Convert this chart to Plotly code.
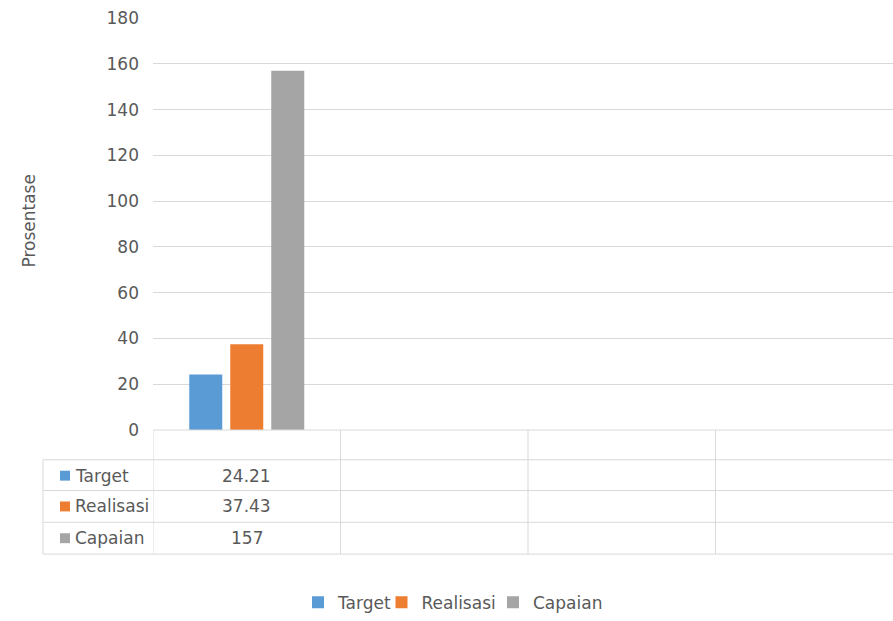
import plotly.graph_objects as go

# ---- data ----
categories = ["", "", "", ""]
series_names = ["Target", "Realisasi", "Capaian"]
target = [24.21, None, None, None]
realisasi = [37.43, None, None, None]
capaian = [157, None, None, None]
table_text = [["24.21", "", "", ""], ["37.43", "", "", ""], ["157", "", "", ""]]
y_ticks = [0, 20, 40, 60, 80, 100, 120, 140, 160, 180]
colors = ["#5B9BD5", "#ED7D31", "#A5A5A5"]

FONT = "DejaVu Sans"
TXT = "#595959"
GRID = "#D9D9D9"
FS = 17

# page geometry (pixels)
L, R_PX, T, B = 153, 893, 18, 433
W, H = R_PX - L, B - T

def px(x):
    return (x - L) / W

def py(y):
    return (B - y) / H

xs = list(range(len(categories)))
legend_ids = ["legend", "legend2", "legend3"]
legend_sym_x = [318, 401.5, 513]   # pixel centre of each legend swatch

fig = go.Figure()
for name, vals, c, lg in zip(series_names, [target, realisasi, capaian], colors, legend_ids):
    fig.add_trace(go.Bar(x=xs, y=vals, name=name, legend=lg,
                         marker=dict(color=c, line=dict(width=0))))

legend_common = dict(orientation="h", xanchor="left", y=py(607), yanchor="middle",
                     font=dict(size=FS, color=TXT, family=FONT), itemwidth=30,
                     bgcolor="rgba(0,0,0,0)", borderwidth=0)
layout_legends = {lg: dict(x=px(sx - 20), **legend_common) for lg, sx in zip(legend_ids, legend_sym_x)}

fig.update_layout(
    width=893, height=621,
    margin=dict(l=L, r=893 - R_PX, t=T, b=621 - B),
    paper_bgcolor="white", plot_bgcolor="white",
    barmode="group", bargap=0.344, bargroupgap=0.195,
    font=dict(family=FONT, color=TXT, size=FS),
    showlegend=True,
    **layout_legends,
)
fig.update_xaxes(range=[-0.5, -0.5 + W / 187.5], showticklabels=False, showgrid=False,
                 zeroline=False, showline=False, ticks="", fixedrange=True)
fig.update_yaxes(range=[0, 180], tickvals=y_ticks, showgrid=True, gridcolor=GRID, gridwidth=1,
                 zeroline=False, showline=False, ticks="", ticklabelstandoff=13,
                 tickfont=dict(size=FS, color=TXT, family=FONT), automargin=False)

# y-axis title
fig.add_annotation(text="Prosentase", textangle=-90, xref="paper", yref="paper",
                   x=px(17.5), y=py(222.5), showarrow=False, font=dict(size=FS, color=TXT))

# ---- data table ----
row_lines = [433, 463, 494, 526, 558]
line = dict(color=GRID, width=1)
fig.add_shape(type="line", xref="paper", yref="paper", x0=0, x1=1,
              y0=py(row_lines[0]), y1=py(row_lines[0]), line=line)
for yl in row_lines[1:]:
    fig.add_shape(type="line", xref="paper", yref="paper", x0=px(43), x1=1,
                  y0=py(yl), y1=py(yl), line=line)
fig.add_shape(type="line", xref="paper", yref="paper", x0=px(43), x1=px(43),
              y0=py(463), y1=py(558), line=line)
for i in range(len(categories)):
    fig.add_shape(type="line", xref="x", yref="paper", x0=i - 0.5, x1=i - 0.5,
                  y0=py(433), y1=py(558), line=line)

row_centers = [479, 510, 542]
for r, (name, c) in enumerate(zip(series_names, colors)):
    yc = row_centers[r]
    fig.add_shape(type="rect", xref="paper", yref="paper", x0=px(60), x1=px(70),
                  y0=py(yc - 5), y1=py(yc + 5), fillcolor=c, line=dict(width=0))
    fig.add_annotation(text=name, xref="paper", yref="paper", x=px(73), y=py(yc),
                       xanchor="left", yanchor="middle", showarrow=False,
                       font=dict(size=FS, color=TXT))
    for i, t in enumerate(table_text[r]):
        if t:
            fig.add_annotation(text=t, xref="x", yref="paper", x=xs[i], y=py(yc),
                               xanchor="center", yanchor="middle", showarrow=False,
                               font=dict(size=FS, color=TXT))

fig.write_html("out.html")
